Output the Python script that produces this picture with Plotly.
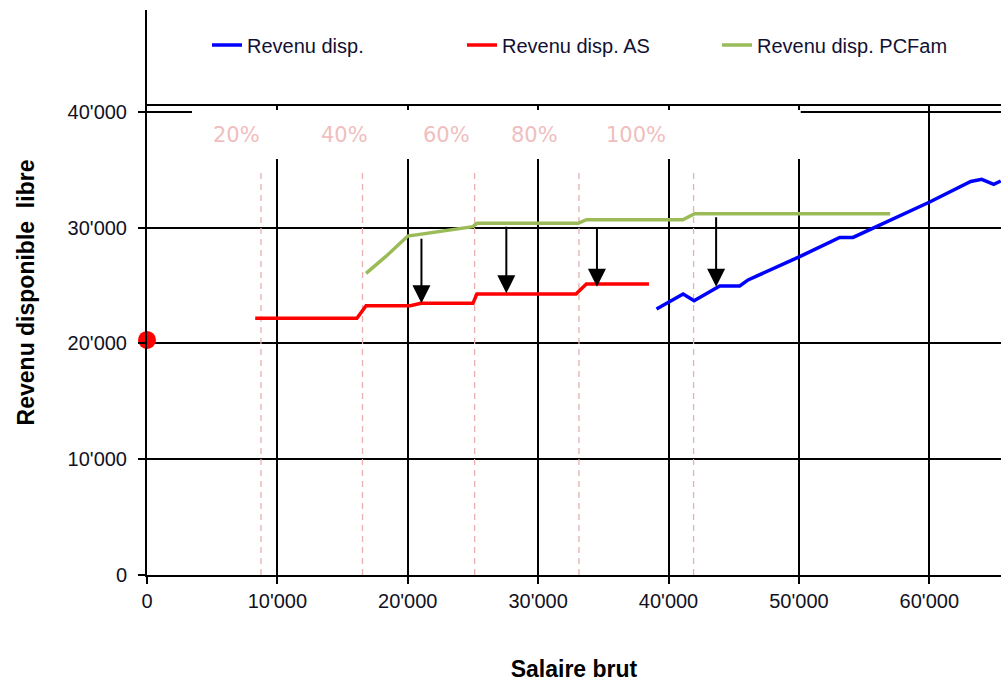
import plotly.graph_objects as go

# ---- data ----
salaire_blue = [39080, 41120, 41960, 43930, 45460, 46100, 50060, 53130, 54150, 60030, 63180, 64020, 64940, 65480]
revenu_disp = [22970, 24270, 23690, 24960, 24960, 25480, 27490, 29150, 29150, 32210, 33980, 34170, 33740, 34020]

salaire_as = [8300, 16100, 16800, 20200, 21000, 25000, 25300, 32900, 33700, 38500]
revenu_as = [22170, 22170, 23260, 23260, 23460, 23460, 24270, 24270, 25130, 25130]

salaire_pc = [16800, 18300, 20000, 25000, 25300, 33070, 33700, 41100, 42000, 57000]
revenu_pc = [26050, 27490, 29270, 30080, 30370, 30370, 30680, 30680, 31200, 31200]

point_zero = (0, 20300)

seuils_x = [8740, 16530, 25130, 33130, 41920]
pct_labels = ["20%", "40%", "60%", "80%", "100%"]
pct_x = [6900, 15170, 23000, 29730, 37470]

arrow_x = [21050, 27560, 34510, 43650]
arrow_from = [29160, 30200, 30160, 31030]
arrow_to = [23460, 24330, 24900, 24900]

x_ticks = [0, 10000, 20000, 30000, 40000, 50000, 60000]
x_ticktext = ["0", "10'000", "20'000", "30'000", "40'000", "50'000", "60'000"]
y_ticks = [0, 10000, 20000, 30000, 40000]
y_ticktext = ["0", "10'000", "20'000", "30'000", "40'000"]

X_MAX = 65500
Y_MAX = 48790
TOP_LINE = 40590

fig = go.Figure()

fig.add_trace(go.Scatter(x=salaire_blue, y=revenu_disp, mode="lines", name="Revenu disp.",
                         line=dict(color="rgb(0,0,255)", width=3.5)))
fig.add_trace(go.Scatter(x=salaire_as, y=revenu_as, mode="lines", name="Revenu disp. AS",
                         line=dict(color="rgb(255,0,0)", width=3.5)))
fig.add_trace(go.Scatter(x=salaire_pc, y=revenu_pc, mode="lines", name="Revenu disp. PCFam",
                         line=dict(color="rgb(155,187,89)", width=3.5)))
fig.add_trace(go.Scatter(x=[point_zero[0]], y=[point_zero[1]], mode="markers", showlegend=False,
                         marker=dict(color="rgb(255,0,0)", size=18), cliponaxis=False))

# masks (white areas covering the grid) and top line
fig.add_shape(type="rect", xref="x", yref="y", x0=0, x1=X_MAX, y0=TOP_LINE, y1=Y_MAX,
              fillcolor="white", line=dict(width=0), layer="between")
fig.add_shape(type="rect", xref="x", yref="y", x0=3450, x1=50140, y0=35920, y1=40160,
              fillcolor="white", line=dict(width=0), layer="between")
fig.add_shape(type="line", xref="x", yref="y", x0=0, x1=X_MAX, y0=TOP_LINE, y1=TOP_LINE,
              line=dict(color="black", width=2), layer="between")

for sx in seuils_x:
    fig.add_shape(type="line", xref="x", yref="y", x0=sx, x1=sx, y0=0, y1=35000,
                  line=dict(color="rgb(232,175,175)", width=1.3, dash="6px,5px"), layer="between")

for lab, px in zip(pct_labels, pct_x):
    fig.add_annotation(x=px, y=38000, xref="x", yref="y", text=lab, showarrow=False,
                       font=dict(family="DejaVu Sans", size=21, color="rgb(240,190,190)"))

for ax_, y0, y1 in zip(arrow_x, arrow_from, arrow_to):
    fig.add_annotation(x=ax_, y=y1, ax=ax_, ay=y0, xref="x", yref="y", axref="x", ayref="y",
                       text="", showarrow=True, arrowhead=2, arrowsize=1.8, arrowwidth=2,
                       arrowcolor="black", standoff=0)

fig.update_layout(
    width=1001, height=688,
    margin=dict(l=147, r=0, t=10, b=113),
    paper_bgcolor="white", plot_bgcolor="white",
    font=dict(family="Liberation Sans, Arial, sans-serif", color="black"),
    showlegend=True,
    legend=dict(orientation="h", x=(207 - 147) / 854, xanchor="left", y=0.938, yanchor="middle",
                font=dict(family="Liberation Sans", size=20, color="#111133"),
                entrywidth=210, entrywidthmode="pixels", bgcolor="rgba(0,0,0,0)"),
    xaxis=dict(range=[0, X_MAX], tickvals=x_ticks, ticktext=x_ticktext,
               showgrid=True, gridcolor="black", gridwidth=1.5, zeroline=False,
               showline=True, linecolor="black", linewidth=2,
               ticks="outside", ticklen=7, tickwidth=2, tickcolor="black",
               tickfont=dict(size=20, color="#111122"), ticklabelstandoff=0,
               title=dict(text="<b>Salaire brut</b>", font=dict(size=23, color="black"), standoff=50)),
    yaxis=dict(range=[0, Y_MAX], tickvals=y_ticks, ticktext=y_ticktext,
               showgrid=True, gridcolor="black", gridwidth=1.5, zeroline=False,
               showline=True, linecolor="black", linewidth=2,
               ticks="outside", ticklen=7, tickwidth=2, tickcolor="black",
               tickfont=dict(size=20, color="#111122"), ticklabelstandoff=7,
               title=dict(text="<b>Revenu disponible\u00a0\u00a0libre</b>", font=dict(size=23, color="black"), standoff=27)),
)

fig.write_html("out.html", config={"displayModeBar": False},
               post_script="document.body.style.margin='0';document.body.style.overflow='hidden';")
